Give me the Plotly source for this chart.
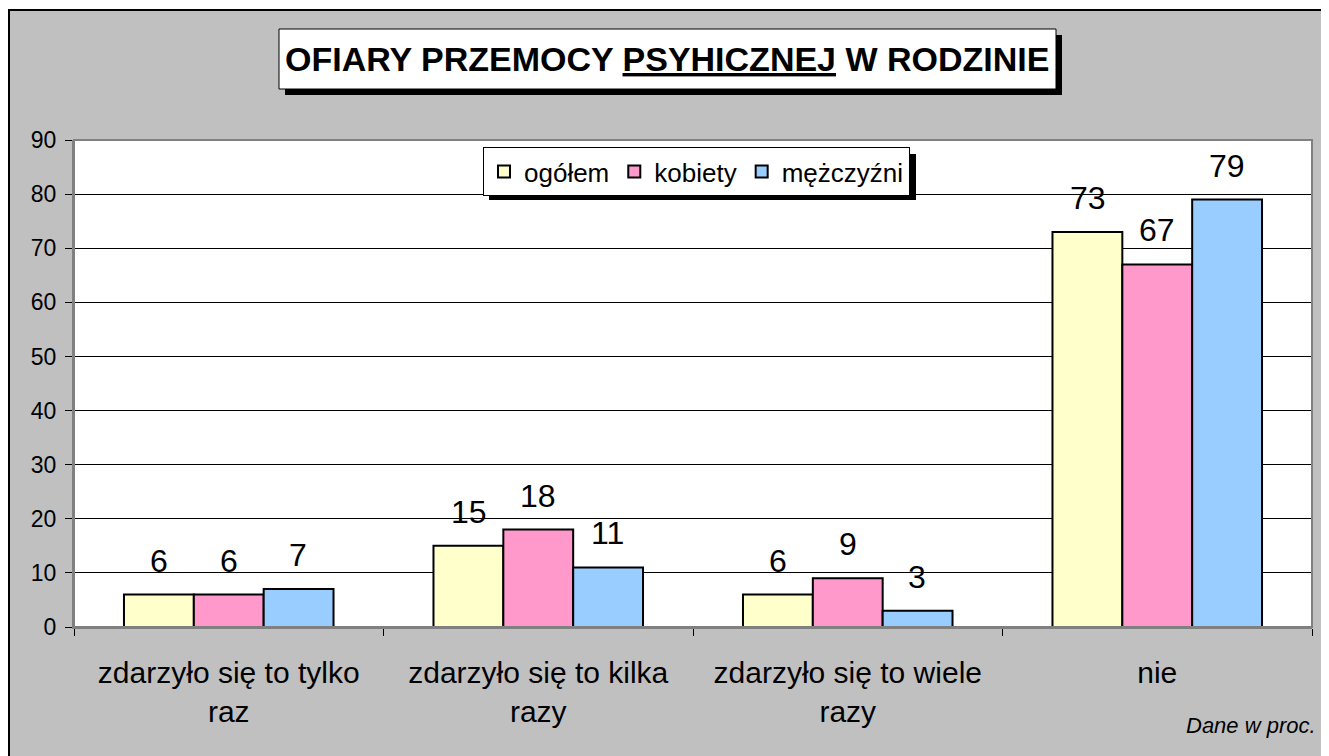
import plotly.graph_objects as go

categories = ["zdarzyło się to tylko<br>raz", "zdarzyło się to kilka<br>razy",
              "zdarzyło się to wiele<br>razy", "nie"]
ogolem = [6, 15, 6, 73]
kobiety = [6, 18, 9, 67]
mezczyzni = [7, 11, 3, 79]
series_names = ["ogółem", "kobiety", "mężczyźni"]
series_colors = ["#FFFFCC", "#FF99CC", "#99CCFF"]
y_ticks = list(range(0, 91, 10))

# page offset (body margin) is 8px; figure sized to fill the window
OFF = 8
W, H = 1329 - OFF, 756 - OFF
# plot area in screen pixels
L, R, T, B = 74, 1312, 140, 627


def px(x):
    return (x - L) / (R - L)


def py(y):
    return (B - y) / (B - T)


FONT = "Arial, Liberation Sans, sans-serif"

fig = go.Figure()
for name, vals, col in zip(series_names, [ogolem, kobiety, mezczyzni], series_colors):
    fig.add_trace(go.Bar(
        name=name, x=categories, y=vals,
        marker=dict(color=col, line=dict(color="black", width=2)),
    ))

annotations = []
offsets = [-1, 0, 1]
for k, vals in enumerate([ogolem, kobiety, mezczyzni]):
    for i, v in enumerate(vals):
        annotations.append(dict(
            x=categories[i], y=v, xref="x", yref="y", text=str(v), showarrow=False,
            xshift=offsets[k] * 69.5, yshift=34, yanchor="middle",
            font=dict(family=FONT, size=32, color="black"),
        ))

annotations.append(dict(
    x=px(667), y=py(59), xref="paper", yref="paper",
    text="OFIARY PRZEMOCY <u>PSYHICZNEJ</u> W RODZINIE", showarrow=False,
    xanchor="center", yanchor="middle",
    font=dict(family=FONT, size=34, color="black", weight="bold"),
))
annotations.append(dict(
    x=px(1318), y=py(725), xref="paper", yref="paper",
    text="<i>Dane w proc.</i>", showarrow=False,
    xanchor="right", yanchor="middle",
    font=dict(family=FONT, size=22, color="black"),
))

shapes = [
    # white strip above outer border
    dict(type="rect", xref="paper", yref="paper", x0=px(0), x1=px(1340), y0=py(0), y1=py(9),
         fillcolor="white", line=dict(width=0), layer="below"),
    dict(type="line", xref="paper", yref="paper", x0=px(8), x1=px(1340), y0=py(10), y1=py(10),
         line=dict(color="black", width=2)),
    dict(type="line", xref="paper", yref="paper", x0=px(9), x1=px(9), y0=py(10), y1=py(770),
         line=dict(color="black", width=2)),
    # plot area border
    dict(type="rect", xref="paper", yref="paper", x0=0, x1=1, y0=0, y1=1,
         line=dict(color="#808080", width=2), layer="above"),
    # title box shadow and box
    dict(type="rect", xref="paper", yref="paper", x0=px(285), x1=px(1062), y0=py(95), y1=py(35),
         fillcolor="black", line=dict(width=0), layer="above"),
    dict(type="rect", xref="paper", yref="paper", x0=px(279), x1=px(1056), y0=py(89), y1=py(29),
         fillcolor="white", line=dict(color="black", width=1), layer="above"),
    # legend shadow
    dict(type="rect", xref="paper", yref="paper", x0=px(489), x1=px(916), y0=py(200), y1=py(154),
         fillcolor="black", line=dict(width=0), layer="above"),
]

fig.update_layout(
    width=W, height=H,
    margin=dict(l=L - OFF, r=W - (R - OFF), t=T - OFF, b=H - (B - OFF), pad=0),
    paper_bgcolor="#C0C0C0", plot_bgcolor="white",
    barmode="group", bargap=0.323, bargroupgap=0,
    font=dict(family=FONT, color="black"),
    showlegend=True,
    legend=dict(
        orientation="h", x=px(483), y=py(147), xanchor="left", yanchor="top",
        bgcolor="white", bordercolor="black", borderwidth=1,
        font=dict(size=26, color="black"), itemwidth=30, traceorder="normal",
    ),
    xaxis=dict(
        tickson="boundaries", ticks="outside", ticklen=7, tickcolor="black",
        showline=True, linecolor="#808080", linewidth=2,
        tickfont=dict(size=30, color="black"), ticklabelstandoff=18,
        showgrid=False,
    ),
    yaxis=dict(
        range=[0, 90], tickvals=y_ticks, ticks="outside", ticklen=7, tickcolor="black",
        showline=True, linecolor="#808080", linewidth=2,
        showgrid=True, gridcolor="black", gridwidth=1,
        tickfont=dict(size=23, color="black"), ticklabelstandoff=4,
        zeroline=False,
    ),
    annotations=annotations,
    shapes=shapes,
)

fig.write_html("out.html")
